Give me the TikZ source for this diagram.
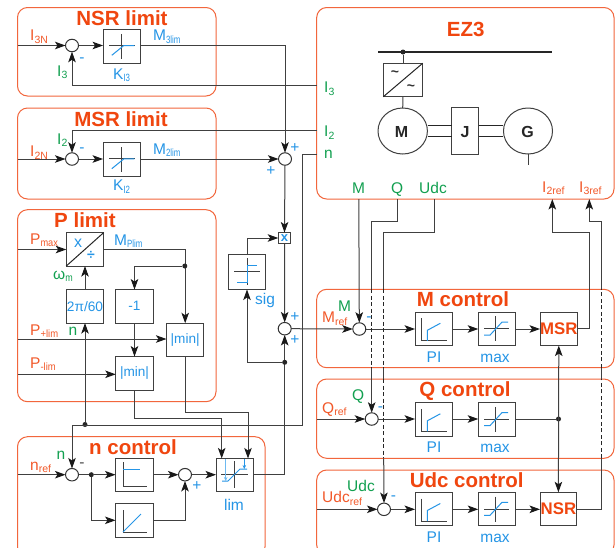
\documentclass[tikz,border=0pt]{standalone}
\usepackage{fontspec}
\setmainfont{Liberation Sans}
\usetikzlibrary{shapes.geometric,arrows.meta,calc}
\definecolor{ttl}{HTML}{F0460F}
\definecolor{frm}{HTML}{F2663C}
\definecolor{lblue}{HTML}{2595E6}
\definecolor{lgreen}{HTML}{12A050}
\definecolor{lorange}{HTML}{F2592A}
\definecolor{wire}{HTML}{404040}
\definecolor{pale}{HTML}{6DB9F0}
\newcommand{\sbs}[2][1]{\raisebox{-2.5pt}{\scalebox{#1}[1]{\fontsize{10.5}{10}\selectfont #2}}}
\tikzset{
  tipk/.tip={Stealth[length=10.5pt,width=7.5pt,inset=2.5pt,black!90]},
  frame/.style={draw=frm,line width=1pt,rounded corners=10pt,inner sep=0,outer sep=0},
  blk/.style={draw=wire,line width=1pt,minimum width=37.5pt,minimum height=33.5pt,inner sep=0,outer sep=0,fill=white},
  sumnode/.style={ellipse,draw=black!80,line width=1pt,minimum width=13pt,minimum height=12.5pt,inner sep=0,outer sep=0,fill=white},
  lin/.style={draw=wire,line width=1pt},
  arr/.style={lin,-tipk},
  dsh/.style={draw=black!85,line width=1pt,dash pattern=on 4pt off 2.5pt},
  dotn/.style={circle,fill=black!85,inner sep=0,minimum size=5pt},
  icon/.style={draw=wire,line width=1pt},
  cur/.style={draw=lblue,line width=1pt},
  ttlt/.style={font=\fontsize{20.5}{20}\selectfont\bfseries,text=ttl,anchor=base,inner sep=0},
  bl/.style={font=\fontsize{15.5}{15}\selectfont,text=lblue,anchor=base west,inner sep=0},
  blc/.style={font=\fontsize{15.5}{15}\selectfont,text=lblue,anchor=base,inner sep=0},
  gr/.style={font=\fontsize{15.5}{15}\selectfont,text=lgreen,anchor=base west,inner sep=0},
  ora/.style={font=\fontsize{15.5}{15}\selectfont,text=lorange,anchor=base west,inner sep=0},
  sgn/.style={font=\fontsize{15.5}{15}\selectfont,text=lblue,inner sep=0},
  inb/.style={font=\fontsize{13.6}{14}\selectfont,text=lblue},
  ctl/.style={font=\fontsize{16.8}{17}\selectfont\bfseries,text=ttl},
  mach/.style={font=\fontsize{16}{16}\selectfont\bfseries,text=black!85},
}
\begin{document}
\begin{tikzpicture}[x=1pt,y=-1pt]
\useasboundingbox (0,0) rectangle (616,547);
\fill[white] (0,0) rectangle (616,547);
\clip (0,0) rectangle (616,547);

% frames
\node[frame,minimum width=198.5pt,minimum height=88.5pt] (fN) at (116.75,51.75) {};
\node[frame,minimum width=198.5pt,minimum height=91pt] (fMS) at (116.75,153.5) {};
\node[frame,minimum width=198.5pt,minimum height=192pt] (fP) at (116.75,305.7) {};
\node[frame,minimum width=247.5pt,minimum height=120pt] (fn) at (141.25,496.7) {};
\node[frame,minimum width=297.3pt,minimum height=191.5pt] (fE) at (465.35,103.25) {};
\node[frame,minimum width=297.3pt,minimum height=78.4pt] (fM) at (465.35,328.5) {};
\node[frame,minimum width=297.3pt,minimum height=79.3pt] (fQ) at (465.35,418.65) {};
\node[frame,minimum width=297.3pt,minimum height=85pt] (fU) at (465.35,512.5) {};

% titles
\node[ttlt] (tN) at (122,25) {NSR limit};
\node[ttlt] (tMS) at (121,126.7) {MSR limit};
\node[ttlt] (tP) at (85,227.7) {P limit};
\node[ttlt] (tn) at (133,454) {n control};
\node[ttlt] (tE) at (465.7,36) {EZ3};
\node[ttlt] (tM) at (463,306.7) {M control};
\node[ttlt] (tQ) at (465,396.7) {Q control};
\node[ttlt] (tU) at (466.7,487.3) {Udc control};

% summing points
\node[sumnode] (s1) at (72,45.5) {};
\node[sumnode] (s2) at (72,159) {};
\node[sumnode] (s3) at (285,159) {};
\node[sumnode] (s4) at (284.7,328.7) {};
\node[sumnode] (sn) at (72,474.7) {};
\node[sumnode] (sc) at (185,474.7) {};
\node[sumnode] (sM) at (359.3,329) {};
\node[sumnode] (sQ) at (371.7,419) {};
\node[sumnode] (sU) at (384,509.3) {};

% blocks
\node[blk] (k3) at (121.8,46.3) {};
\node[blk] (k2) at (121.8,159.7) {};
\node[blk] (xd) at (85,249.3) {};
\node[blk] (rp) at (85,306.3) {\fontsize{13.7}{14}\selectfont\color{lblue}2π/60};
\node[blk] (neg) at (134.5,306.3) {\fontsize{13.6}{14}\selectfont\color{lblue}-1};
\node[blk] (m1) at (185.2,340) {\fontsize{13.6}{14}\selectfont\color{lblue}|min|};
\node[blk] (m2) at (134.5,373.3) {\fontsize{13.6}{14}\selectfont\color{lblue}|min|};
\node[blk,minimum height=11pt,minimum width=12.5pt] (xb) at (284.5,238) {\fontsize{13}{13}\selectfont\bfseries\color{lblue}x};
\node[blk,minimum height=35pt] (sig) at (247,272) {};
\node[blk] (np) at (134.3,475.2) {};
\node[blk] (ni) at (134.3,520.3) {};
\node[blk] (lim) at (234.8,475.2) {};
\node[blk,minimum width=39.4pt] (conv) at (403,80) {};
\node[blk,minimum width=26.7pt,minimum height=46.5pt] (jb) at (465.3,131.2) {};
\node[blk] (piM) at (433.8,328.8) {};
\node[blk] (mxM) at (497,328.8) {};
\node[blk] (msr) at (558.8,328.8) {};
\node[blk] (piQ) at (433.8,419.3) {};
\node[blk] (mxQ) at (497,419.3) {};
\node[blk] (piU) at (433.8,509) {};
\node[blk] (mxU) at (497,509) {};
\node[blk,minimum width=36.7pt] (nsr) at (558.4,509) {};
\node[ctl] at (msr) {MSR};
\node[ctl] at (nsr) {NSR};

% machines
\node[ellipse,draw=wire,line width=1pt,minimum width=49.4pt,minimum height=46pt,inner sep=0,outer sep=0] (mot) at (402.7,131) {};
\node[ellipse,draw=wire,line width=1pt,minimum width=49pt,minimum height=46pt,inner sep=0,outer sep=0] (gen) at (528,131) {};
\node[mach,anchor=base,inner sep=0] at (401.5,137) {M};
\node[mach,anchor=base,inner sep=0] at (465,137) {J};
\node[mach,anchor=base,inner sep=0] at (527.5,137) {G};

% named connector ends
\coordinate (in3N) at (17.5,45.5);
\coordinate (in2N) at (17.5,159);
\coordinate (inPm) at (17.5,249.5);
\coordinate (inPp) at (17.5,339);
\coordinate (inPn) at (17.5,374.3);
\coordinate (inn) at (17.5,474.7);
\coordinate (inQ) at (316.7,419);
\coordinate (inU) at (316.7,509.3);
\coordinate (ez3) at (316.7,85.5);
\coordinate (ez2) at (316.7,130);
\coordinate (ezn) at (316.7,154.3);
\coordinate (ezM) at (358.8,199);
\coordinate (ezQ) at (397.7,199);
\coordinate (ezU) at (434.3,199);
\coordinate (ezI2) at (552.3,199);
\coordinate (ezI3) at (589.3,199);
\coordinate (bnd) at (302.3,425);

% NSR limit
\draw[arr] (in3N) -- (s1.west);
\draw[arr] (s1.east) -- (k3.west |- s1);
\draw[arr] (k3.east |- s1) -| (s3.north);
\draw[arr] (ez3) -| (s1.south);
% MSR limit
\draw[arr] (in2N) -- (s2.west);
\draw[arr] (ez2) -| (s2.north);
\draw[arr] (s2.east) -- (k2.west |- s2);
\draw[arr] (k2.east |- s2) -- (s3.west);
% P limit
\draw[arr] (inPm) -- (xd.west |- inPm);
\draw[arr] (xd.east |- inPm) -| (m1.north);
\node[dotn] (d1) at (184.8,266) {};
\draw[arr] (d1) -| (neg.north);
\draw[arr] (neg.south) -- (m2.north);
\draw[arr] (rp.north) -- (xd.south);
\draw[arr] (inPp) -- (m1.west |- inPp);
\draw[arr] (inPn) -- (m2.west |- inPn);
% speed feedback
\node[dotn] (d2) at (85,424.5) {};
\draw[arr] (ezn) -| (bnd) -| (sn.north);
\draw[arr] (d2) -- (rp.south);
% limits to lim
\coordinate (b2) at (221.7,418.5);
\coordinate (b1) at (248,412.3);
\draw[arr] (m2.south) |- (b2) -- (b2 |- lim.north);
\draw[arr] (m1.south) |- (b1) -- (b1 |- lim.north);
% n control
\draw[arr] (inn) -- (sn.west);
\node[dotn] (d3) at (91.3,474.7) {};
\draw[lin] (sn.east) -- (d3);
\draw[arr] (d3) -- (np.west |- d3);
\draw[arr] (d3) |- (ni.west);
\draw[arr] (np.east |- sc) -- (sc.west);
\draw[arr] (ni.east) -| (sc.south);
\draw[arr] (sc.east) -- (lim.west |- sc);
\draw[lin,-tipk] (lim.east |- sc) -| (s4.south);
% speed path centre
\draw[arr] (s3.south) -- (xb.north);
\draw[arr] (xb.south) -- (s4.north);
\node[dotn] (d4) at (284.7,362.3) {};
\draw[arr] (d4) -| (sig.south);
\draw[arr] (sig.north) |- (xb.west);
% M control
\draw[arr] (s4.east) -- (sM.west);
\draw[arr] (ezM) -- (sM.north);
\draw[arr] (sM.east) -- (piM.west |- sM);
\draw[arr] (piM.east |- sM) -- (mxM.west |- sM);
\draw[arr] (mxM.east |- sM) -- (msr.west |- sM);
\coordinate (m2b) at (589.3,232.3);
\coordinate (m2c) at (552.3,232.3);
\draw[arr] (msr.east) -| (m2b) -- (m2c) -- (ezI2);
% Q control
\coordinate (qb) at (371.7,221.3);
\coordinate (qa) at (371.7,289.3);
\coordinate (qc) at (371.7,367.7);
\draw[lin] (ezQ) |- (qb) -- (qa);
\draw[dsh] (qa) -- (qc);
\draw[arr] (qc) -- (sQ.north);
\draw[arr] (inQ) -- (sQ.west);
\draw[arr] (sQ.east) -- (piQ.west |- sQ);
\draw[arr] (piQ.east |- sQ) -- (mxQ.west |- sQ);
\node[dotn] (d5) at (558.5,419) {};
\draw[lin] (mxQ.east |- d5) -- (d5);
\draw[lin,tipk-tipk] (msr.south) -- (nsr.north);
% Udc control
\coordinate (ub) at (383.7,232.3);
\coordinate (ua) at (383.7,289.3);
\coordinate (uc) at (383.7,367.7);
\coordinate (ud) at (383.7,379);
\coordinate (ue) at (383.7,458.3);
\draw[lin] (ezU) |- (ub) -- (ua);
\draw[dsh] (ua) -- (uc);
\draw[lin] (uc) -- (ud);
\draw[dsh] (ud) -- (ue);
\draw[arr] (ue) -- (sU.north);
\draw[arr] (inU) -- (sU.west);
\draw[arr] (sU.east) -- (piU.west |- sU);
\draw[arr] (piU.east |- sU) -- (mxU.west |- sU);
\draw[arr] (mxU.east |- sU) -- (nsr.west |- sU);
% I3 ref return
\coordinate (ra) at (601.7,458.3);
\coordinate (rb) at (601.7,379);
\coordinate (rc) at (601.7,367.7);
\coordinate (rd) at (601.7,289.3);
\coordinate (re) at (601.7,221.3);
\coordinate (rf) at (589.3,221.3);
\draw[lin] (nsr.east) -| (ra);
\draw[dsh] (ra) -- (rb);
\draw[lin] (rb) -- (rc);
\draw[dsh] (rc) -- (rd);
\draw[arr] (rd) -- (re) -- (rf) -- (ezI3);
% EZ3 internals
\coordinate (busL) at (378.3,52);
\coordinate (busR) at (552.3,52);
\draw[draw=black!85,line width=1.4pt] (busL) -- (busR);
\node[dotn] (d6) at (403,52) {};
\draw[lin] (d6) -- (conv.north);
\draw[lin] (conv.south) -- (mot.north);
\draw[line width=1pt,draw=black!85] (conv.south west) -- (conv.north east);
\node[inner sep=0,font=\fontsize{14}{14}\selectfont\bfseries,text=black!80] at (395,74) {\char`~};
\node[inner sep=0,font=\fontsize{14}{14}\selectfont\bfseries,text=black!80] at (411,88) {\char`~};
\draw[draw=black!85,line width=1pt] (427.9,125.5) -- (jb.west |- 0,125.5) (427.9,136.7) -- (jb.west |- 0,136.7);
\draw[draw=black!85,line width=1pt] (jb.east |- 0,125.5) -- (503.2,125.5) (jb.east |- 0,136.7) -- (503.2,136.7);
\coordinate (gs) at (528,165);
\draw[lin] (gen.south) -- (gs);

% icons: limiter K
\foreach \b in {k3,k2}{
  \draw[icon] ($(\b)+(0,-12.5)$) -- ($(\b)+(0,12.5)$);
  \draw[icon] ($(\b)+(-12.5,-.8)$) -- ($(\b)+(13.5,-.8)$);
  \draw[cur] ($(\b)+(-10,9)$) -- ($(\b)+(2,-.8)$) -- ($(\b)+(12.5,-.8)$);
}
% x / divide
\draw[line width=1pt,draw=black!85] (xd.south west) -- (xd.north east);
\node[inb,font=\fontsize{16}{16}\selectfont] at (78,243) {x};
\node[inb,font=\fontsize{14}{14}\selectfont\bfseries] at (91,255) {÷};
% sig icon
\draw[icon] (234,271.7) -- (260,271.7);
\draw[icon] (247.7,258) -- (247.7,284.5);
\draw[cur] (237,282.3) -- (247.7,282.3) -- (247.7,265.7) -- (257,265.7);
% n control icons
\draw[icon] (123,462) |- (147,486);
\draw[cur] (123,469.7) -- (140,469.7);
\draw[icon] (123,510) |- (147,532);
\draw[cur] (123,532) -- (141,514);
\draw[icon] (234,461) -- (234,488);
\draw[icon] (221,474.7) -- (248,474.7);
\draw[cur] (222,481) -- (228,481) -- (240,469) -- (247,469);
\draw[draw=pale,line width=1.4pt,-{Stealth[length=4pt,width=3.5pt]}] (225.7,459) -- (225.7,481);
\draw[cur,-{Stealth[length=4pt,width=3.5pt]}] (244.3,459) -- (244.3,469);
% PI and max icons
\foreach \b in {piM,piQ,piU}{
  \draw[icon] ($(\b)+(-12,-10.5)$) |- ($(\b)+(13,12)$);
  \draw[cur] ($(\b)+(-6.5,12)$) -- ($(\b)+(-6.5,1.5)$) -- ($(\b)+(6.5,-5.5)$);
}
\foreach \b in {mxM,mxQ,mxU}{
  \draw[icon] ($(\b)+(-1.2,-12.5)$) -- ($(\b)+(-1.2,12.5)$);
  \draw[icon] ($(\b)+(-13,0)$) -- ($(\b)+(12,0)$);
  \draw[cur] ($(\b)+(-13,6.3)$) -- ($(\b)+(-7,6.3)$) -- ($(\b)+(5,-6.7)$) -- ($(\b)+(11,-6.7)$);
}

% labels
\node[ora] (l1) at (30,40.7) {I\sbs{3N}};
\node[bl] (l2) at (153,40.7) {M\sbs[.75]{3lim}};
\node[gr] (l3) at (57,76) {I\sbs{3}};
\node[sgn] (l4) at (82,60) {-};
\node[bl] (l5) at (113,79) {K\sbs[.75]{I3}};
\node[gr] (l6) at (57,144) {I\sbs{2}};
\node[ora] (l7) at (30,156.7) {I\sbs{2N}};
\node[sgn] (l8) at (82,150) {-};
\node[bl] (l9) at (153,154) {M\sbs[.75]{2lim}};
\node[bl] (l10) at (113,190.7) {K\sbs[.75]{I2}};
\node[sgn] (l11) at (295,148) {+};
\node[sgn] (l12) at (271,171) {+};
\node[ora] (l13) at (30,244) {P\sbs[.88]{max}};
\node[bl] (l14) at (114,245) {M\sbs[.75]{Plim}};
\node[gr] (l15) at (53,279) {ω\sbs[.85]{m}};
\node[gr] (l16) at (68.5,335) {n};
\node[ora] (l17) at (30,335) {P\sbs[.9]{+lim}};
\node[ora] (l18) at (30,368) {P\sbs[.9]{-lim}};
\node[bl] (l19) at (255,304.3) {sig};
\node[sgn] (l20) at (295,317) {+};
\node[sgn] (l21) at (295,340.5) {+};
\node[gr] (l22) at (56.5,459) {n};
\node[ora] (l23) at (30,470) {n\sbs{ref}};
\node[sgn,text=black!70] (l24) at (82,465) {-};
\node[sgn] (l25) at (197,486) {+};
\node[blc] (l26) at (234,510) {lim};
\node[gr] (l27) at (338,311.7) {M};
\node[ora] (l28) at (322,322.7) {M\sbs{ref}};
\node[sgn] (l29) at (369,319) {-};
\node[blc] (l30) at (434,362.3) {PI};
\node[blc] (l31) at (495,362.3) {max};
\node[gr] (l32) at (352,400.7) {Q};
\node[ora] (l33) at (322,413) {Q\sbs{ref}};
\node[sgn] (l34) at (380.5,409) {-};
\node[blc] (l35) at (434,452.3) {PI};
\node[blc] (l36) at (495,452.3) {max};
\node[gr] (l37) at (347,491.7) {Udc};
\node[ora] (l38) at (322,502.7) {Udc\sbs{ref}};
\node[sgn] (l39) at (393.5,498) {-};
\node[blc] (l40) at (434,542.3) {PI};
\node[blc] (l41) at (495,542.3) {max};
\node[gr] (l42) at (324,92.7) {I\sbs{3}};
\node[gr] (l43) at (324,136.7) {I\sbs{2}};
\node[gr] (l44) at (324,158) {n};
\node[gr] (l45) at (352,193.3) {M};
\node[gr] (l46) at (391,193.3) {Q};
\node[gr] (l47) at (419,193.3) {Udc};
\node[ora] (l48) at (542,192.3) {I\sbs{2ref}};
\node[ora] (l49) at (579,192.3) {I\sbs{3ref}};
\end{tikzpicture}
\end{document}
